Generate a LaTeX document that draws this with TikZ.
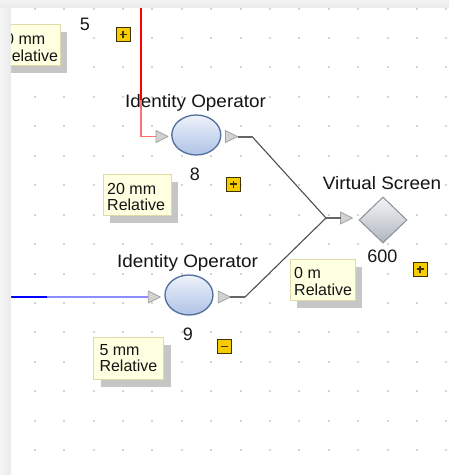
\documentclass[tikz,border=0pt]{standalone}
\usepackage{fontspec}
\setmainfont{Liberation Sans}
\usetikzlibrary{shapes.geometric,shadows,calc}
\definecolor{wirec}{HTML}{505050}
\definecolor{stubc}{HTML}{666666}
\definecolor{dotc}{HTML}{D4D4D4}
\definecolor{tipfill}{HTML}{FFFFE1}
\definecolor{tipdraw}{HTML}{E2DAA6}
\definecolor{shadowc}{HTML}{C6C6C6}
\definecolor{portfill}{HTML}{D2D2D2}
\definecolor{portdraw}{HTML}{A2A2A2}
\definecolor{goldc}{HTML}{F6CB00}
\definecolor{goldd}{HTML}{3E3200}
\definecolor{ellt}{HTML}{EEF2FA}
\definecolor{ellb}{HTML}{AFC3E6}
\definecolor{elld}{HTML}{4F6E9C}
\definecolor{diat}{HTML}{F5F5F7}
\definecolor{diab}{HTML}{B0B5BE}
\definecolor{diad}{HTML}{88909C}
\definecolor{redl}{HTML}{FF7272}
\definecolor{bluel}{HTML}{8C8CFF}
\newcommand\porttri[3]{%
  \coordinate (#1-w) at (#2,#3);
  \coordinate (#1-e) at ({#2+12},#3);
  \filldraw[portst] (#2,{#3-6}) -- ({#2+12},#3) -- (#2,{#3+6}) -- cycle;}
\begin{document}
\begin{tikzpicture}[x=1pt,y=-1pt,
  wire/.style={draw=wirec, line width=1.1pt},
  stub/.style={draw=stubc, line width=2pt},
  portst/.style={fill=portfill, draw=portdraw, line width=0.8pt, line join=round},
  opnode/.style={ellipse, inner sep=0, minimum width=49pt, minimum height=40pt,
     top color=ellt, bottom color=ellb, draw=elld, line width=1.3pt},
  scrnode/.style={diamond, inner sep=0, minimum width=48pt, minimum height=46pt,
     top color=diat, bottom color=diab, draw=diad, line width=1pt},
  ttl/.style={inner sep=0, anchor=base, text=black!92, font=\fontsize{18}{20}\selectfont},
  num/.style={inner sep=0, anchor=base, text=black!90, font=\fontsize{18}{20}\selectfont},
  lbox/.style={fill=tipfill, draw=tipdraw, line width=0.8pt, inner sep=0, anchor=north west,
     general shadow={fill=shadowc, shadow xshift=7pt, shadow yshift=-8pt}},
  ltxt/.style={inner sep=0, anchor=base west, text=black!92, font=\fontsize{16}{17}\selectfont},
  xbox/.style={fill=goldc, draw=goldd, line width=1pt, minimum size=14pt, inner sep=0},
  plusbox/.style={xbox, path picture={\draw[goldd, line width=1.4pt]
     ([xshift=-3.5pt]path picture bounding box.center) -- ([xshift=3.5pt]path picture bounding box.center)
     ([yshift=-3.5pt]path picture bounding box.center) -- ([yshift=3.5pt]path picture bounding box.center);}},
  minusbox/.style={xbox, path picture={\draw[goldd, line width=1.4pt]
     ([xshift=-3.5pt]path picture bounding box.center) -- ([xshift=3.5pt]path picture bounding box.center);}}
]
\useasboundingbox (0,0) rectangle (449,475);
\fill[white] (0,0) rectangle (449,475);
% grid dots
\foreach \i in {0,...,14}{\foreach \j in {0,...,15}{
  \fill[dotc] ({34.7+29.4*\i-1},{8.5+29.45*\j-1}) rectangle ++(2,2);}}

% top partial label
\node[lbox, minimum width=70pt, minimum height=41pt] (b20) at (-10,24) {};
\node[ltxt] (t20a) at (5,44) {0 mm};
\node[ltxt] (t20b) at (0,61) {Relative};
\node[num] (n5) at (85,30) {5};
\node[plusbox] (x5) at (123,34.5) {};

% operator 8
\node[ttl] (ttl8) at (195.5,107.5) {\scalebox{1.05}[1]{Identity Operator}};
\node[opnode] (e8) at (196.3,135) {};
\porttri{p8in}{156}{136.5}
\porttri{p8out}{225.5}{136.5}
\node[num] (n8) at (195,180) {8};
\node[plusbox] (x8) at (233.5,184) {};
\node[lbox, minimum width=68pt, minimum height=41pt] (b8) at (103,174) {};
\node[ltxt] (t8a) at (107,194.5) {20 mm};
\node[ltxt] (t8b) at (107,210.5) {Relative};

% operator 9
\node[ttl] (ttl9) at (187.5,267.3) {\scalebox{1.05}[1]{Identity Operator}};
\node[opnode, minimum width=48pt] (e9) at (189,295) {};
\porttri{p9in}{148.3}{297}
\porttri{p9out}{218.3}{297}
\node[num] (n9) at (188,340.7) {9};
\node[minusbox] (x9) at (224.7,346.3) {};
\node[lbox, minimum width=70pt, minimum height=42pt] (b9) at (93.3,336.7) {};
\node[ltxt] (t9a) at (99.3,355) {5 mm};
\node[ltxt] (t9b) at (99.3,371.7) {Relative};

% virtual screen
\node[ttl] (ttls) at (382,189.3) {\scalebox{1.05}[1]{Virtual Screen}};
\node[scrnode] (d600) at (383,220) {};
\porttri{pdin}{340.5}{218}
\node[num] (n600) at (382.3,262.7) {600};
\node[plusbox] (x600) at (420,269) {};
\node[lbox, minimum width=65pt, minimum height=41pt] (b0) at (290,259) {};
\node[ltxt] (t0a) at (294,278.3) {0 m};
\node[ltxt] (t0b) at (294,295) {Relative};

% connectors
\coordinate (r0) at (141,0);
\coordinate (r1) at (141,100);
\coordinate (r2) at (141,136.5);
\draw[red, line width=1.2pt] (r0) -- (r1);
\draw[redl, line width=1.2pt] (r1) -- (r2) -- (p8in-w);
\coordinate (bl0) at (0,297);
\coordinate (bl1) at (47,297);
\draw[blue, line width=1.4pt] (bl0) -- (bl1);
\draw[bluel, line width=1.4pt] (bl1) -- (p9in-w);
\coordinate (k8) at (252,136.5);
\coordinate (k9) at (245,297);
\coordinate (j) at (326,218);
\draw[stub] (p8out-e) -- (k8);
\draw[stub] (p9out-e) -- (k9);
\draw[wire] (k8) -- (j);
\draw[wire] (k9) -- (j);
\draw[stub] (j) -- (pdin-w);

% window edges
\shade[left color=black!4, right color=black!8] (0,0) rectangle (11,475);
\shade[top color=black!5, bottom color=black!8] (0,0) rectangle (449,7);
\end{tikzpicture}
\end{document}
